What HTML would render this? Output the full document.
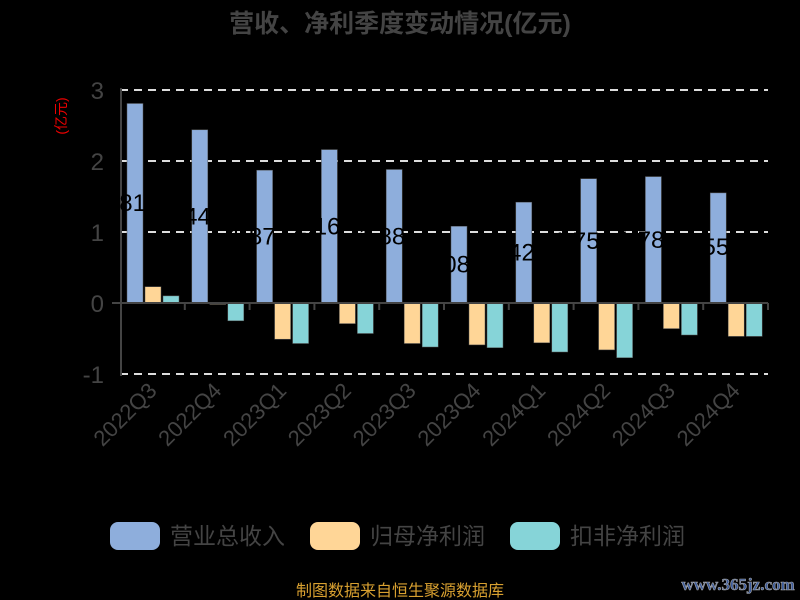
<!DOCTYPE html>
<html><head><meta charset="utf-8"><style>body{margin:0;background:#000}svg{display:block}</style></head><body>
<svg width="800" height="600" xmlns="http://www.w3.org/2000/svg" font-family="'Liberation Sans','Noto Sans CJK SC',sans-serif">
<rect width="800" height="600" fill="#000"/>
<text x="400" y="32" text-anchor="middle" font-size="25" font-weight="bold" fill="#444">营收、净利季度变动情况(亿元)</text>
<text transform="translate(66,116) rotate(-90)" text-anchor="middle" font-size="14" fill="#e00">(亿元)</text>
<g stroke="#ddd" stroke-width="2" stroke-dasharray="8,6">
<line x1="120" y1="90" x2="768" y2="90"/><line x1="120" y1="161" x2="768" y2="161"/><line x1="120" y1="232" x2="768" y2="232"/><line x1="120" y1="374" x2="768" y2="374"/>
</g>
<g font-size="24" fill="#444" text-anchor="end">
<text x="104" y="99">3</text><text x="104" y="170">2</text><text x="104" y="241">1</text><text x="104" y="312">0</text><text x="104" y="383">-1</text>
</g>
<line x1="121" y1="88" x2="121" y2="376" stroke="#444" stroke-width="2"/>
<g stroke="#555" stroke-width="0.5">
<g fill="#8eaedc">
<rect x="127" y="103.5" width="16" height="199.5"/>
<rect x="191.8" y="129.8" width="16" height="173.2"/>
<rect x="256.6" y="170.2" width="16" height="132.8"/>
<rect x="321.4" y="149.6" width="16" height="153.4"/>
<rect x="386.2" y="169.5" width="16" height="133.5"/>
<rect x="451" y="226.3" width="16" height="76.7"/>
<rect x="515.8" y="202.2" width="16" height="100.8"/>
<rect x="580.6" y="178.7" width="16" height="124.3"/>
<rect x="645.4" y="176.6" width="16" height="126.4"/>
<rect x="710.2" y="192.9" width="16" height="110.1"/>
</g>
<g fill="#ffd697">
<rect x="145" y="286.7" width="16" height="16.3"/>
<rect x="209.8" y="303" width="16" height="1.4"/>
<rect x="274.6" y="303" width="16" height="36.2"/>
<rect x="339.4" y="303" width="16" height="20.6"/>
<rect x="404.2" y="303" width="16" height="40.5"/>
<rect x="469" y="303" width="16" height="41.9"/>
<rect x="533.8" y="303" width="16" height="39.8"/>
<rect x="598.6" y="303" width="16" height="46.9"/>
<rect x="663.4" y="303" width="16" height="25.6"/>
<rect x="728.2" y="303" width="16" height="33.4"/>
</g>
<g fill="#86d4d8">
<rect x="163" y="295.9" width="16" height="7.1"/>
<rect x="227.8" y="303" width="16" height="17.8"/>
<rect x="292.6" y="303" width="16" height="40.5"/>
<rect x="357.4" y="303" width="16" height="30.5"/>
<rect x="422.2" y="303" width="16" height="44"/>
<rect x="487" y="303" width="16" height="44.7"/>
<rect x="551.8" y="303" width="16" height="49"/>
<rect x="616.6" y="303" width="16" height="54.7"/>
<rect x="681.4" y="303" width="16" height="32"/>
<rect x="746.2" y="303" width="16" height="33.4"/>
</g>
</g>
<g font-size="24" text-anchor="end" fill="#000">
<text x="146" y="211.2">2.81</text>
<text x="210.8" y="224.4">2.44</text>
<text x="275.6" y="244.6">1.87</text>
<text x="340.4" y="234.3">2.16</text>
<text x="405.2" y="244.3">1.88</text>
<text x="470" y="272.7">1.08</text>
<text x="534.8" y="260.6">1.42</text>
<text x="599.6" y="248.9">1.75</text>
<text x="664.4" y="247.8">1.78</text>
<text x="729.2" y="255">1.55</text>
</g>
<line x1="112" y1="303" x2="768" y2="303" stroke="#444" stroke-width="2"/>
<g stroke="#444" stroke-width="2">
<line x1="184.8" y1="303" x2="184.8" y2="310"/><line x1="249.6" y1="303" x2="249.6" y2="310"/><line x1="314.4" y1="303" x2="314.4" y2="310"/><line x1="379.2" y1="303" x2="379.2" y2="310"/><line x1="444" y1="303" x2="444" y2="310"/><line x1="508.8" y1="303" x2="508.8" y2="310"/><line x1="573.6" y1="303" x2="573.6" y2="310"/><line x1="638.4" y1="303" x2="638.4" y2="310"/><line x1="703.2" y1="303" x2="703.2" y2="310"/><line x1="768" y1="303" x2="768" y2="310"/>
</g>
<g font-size="22" fill="#444" text-anchor="end">
<text transform="translate(158,392) rotate(-45)">2022Q3</text>
<text transform="translate(222.8,392) rotate(-45)">2022Q4</text>
<text transform="translate(287.6,392) rotate(-45)">2023Q1</text>
<text transform="translate(352.4,392) rotate(-45)">2023Q2</text>
<text transform="translate(417.2,392) rotate(-45)">2023Q3</text>
<text transform="translate(482,392) rotate(-45)">2023Q4</text>
<text transform="translate(546.8,392) rotate(-45)">2024Q1</text>
<text transform="translate(611.6,392) rotate(-45)">2024Q2</text>
<text transform="translate(676.4,392) rotate(-45)">2024Q3</text>
<text transform="translate(741.2,392) rotate(-45)">2024Q4</text>
</g>
<rect x="110" y="522" width="50" height="28" rx="8" fill="#8eaedc"/>
<text x="170" y="544" font-size="23" fill="#444">营业总收入</text>
<rect x="310" y="522" width="50" height="28" rx="8" fill="#ffd697"/>
<text x="370" y="544" font-size="23" fill="#444">归母净利润</text>
<rect x="510" y="522" width="50" height="28" rx="8" fill="#86d4d8"/>
<text x="570" y="544" font-size="23" fill="#444">扣非净利润</text>
<text x="400" y="596" text-anchor="middle" font-size="16" fill="#d8a030">制图数据来自恒生聚源数据库</text>
<text x="738" y="590" text-anchor="middle" font-size="17" font-weight="bold" fill="#3a5a9a" stroke="#aaa" stroke-width="0.6" font-family="'Liberation Serif',serif">www.365jz.com</text>
</svg>
</body></html>
